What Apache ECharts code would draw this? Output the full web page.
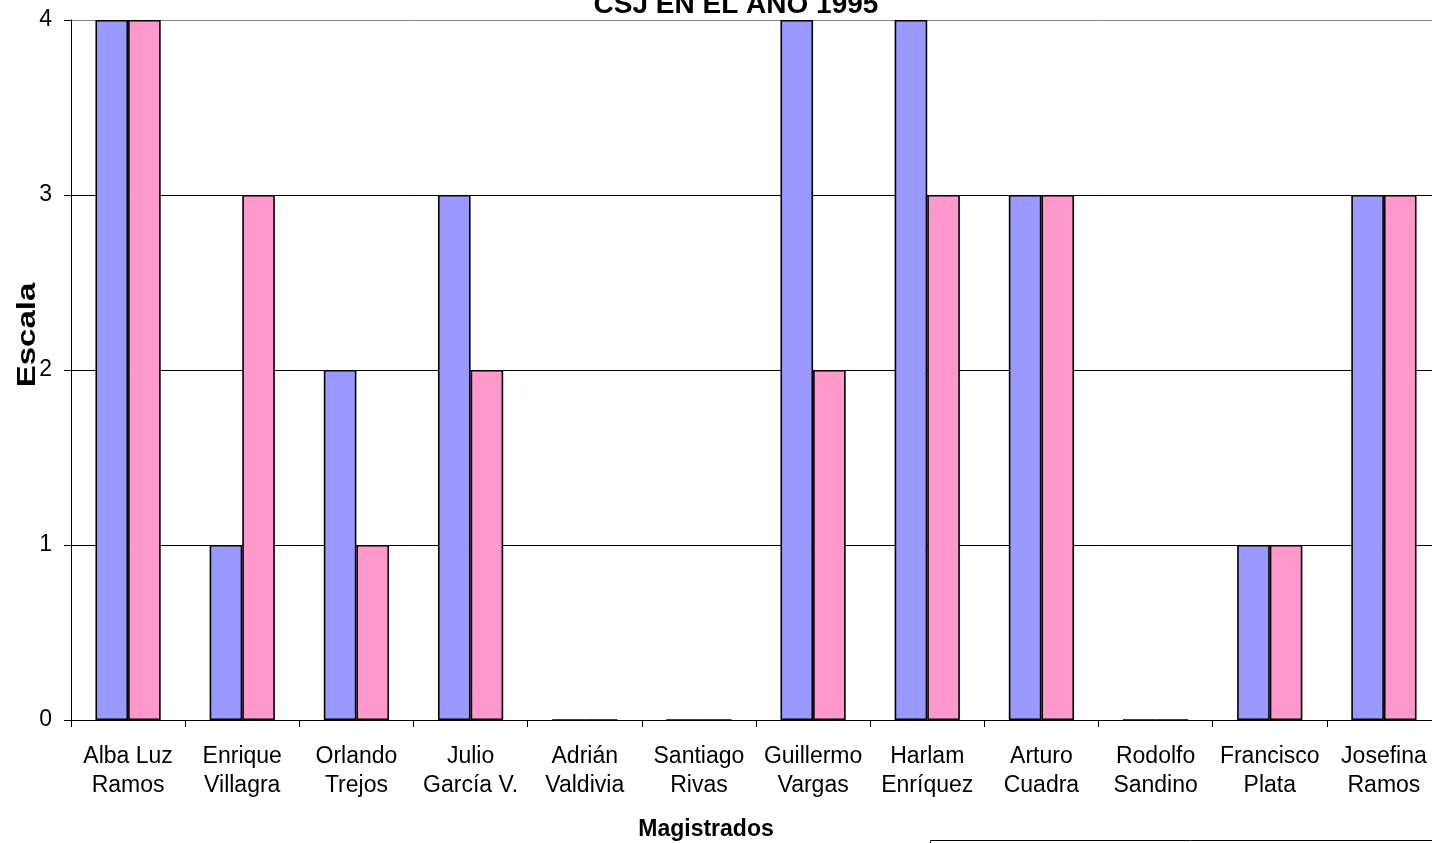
<!DOCTYPE html>
<html>
<head>
<meta charset="utf-8">
<script src="https://cdn.jsdelivr.net/npm/echarts@6/dist/echarts.min.js"></script>
<style>
  html, body { margin: 0; padding: 0; background: #fff; overflow: hidden; width: 1432px; height: 843px; }
  /* plot area runs slightly past the right edge of the window */
  #chart { width: 1460px; height: 843px; }
</style>
</head>
<body>
<div id="chart"></div>
<script>
// Magistrados de la CSJ, escala 0-4
const magistrados = [
  'Alba Luz\nRamos', 'Enrique\nVillagra', 'Orlando\nTrejos', 'Julio\nGarcía V.',
  'Adrián\nValdivia', 'Santiago\nRivas', 'Guillermo\nVargas', 'Harlam\nEnríquez',
  'Arturo\nCuadra', 'Rodolfo\nSandino', 'Francisco\nPlata', 'Josefina\nRamos'
];
const serieA = [4, 1, 2, 3, 0, 0, 4, 4, 3, 0, 1, 3];
const serieB = [4, 3, 1, 2, 0, 0, 2, 3, 3, 0, 1, 3];
const yTicks = [0, 1, 2, 3, 4];

const FONT = "'Liberation Sans', Arial, sans-serif";

const chart = echarts.init(document.getElementById('chart'), null, { renderer: 'canvas' });

chart.setOption({
  animation: false,
  backgroundColor: '#ffffff',
  textStyle: { fontFamily: FONT },
  grid: { left: 71, top: 20, width: 1370, height: 700, containLabel: false },
  graphic: [
    {
      type: 'text',
      x: 736, y: -9,
      style: {
        text: 'CSJ EN EL AÑO 1995',
        font: "bold 28px " + FONT,
        fill: '#000',
        align: 'center',
        verticalAlign: 'top'
      }
    },
    {
      type: 'text',
      x: 28, y: 335,
      rotation: Math.PI / 2,
      scaleX: 1.32,
      style: {
        text: 'Escala',
        font: "bold 25px " + FONT,
        fill: '#000',
        align: 'center',
        verticalAlign: 'middle'
      }
    },
    {
      type: 'text',
      x: 706, y: 830,
      style: {
        text: 'Magistrados',
        font: "bold 23px " + FONT,
        fill: '#000',
        align: 'center',
        verticalAlign: 'middle'
      }
    },
    {
      // legend frame sitting at the bottom edge
      type: 'rect',
      shape: { x: 930.5, y: 840.5, width: 520, height: 60 },
      style: { fill: '#fff', stroke: '#000', lineWidth: 1 }
    }
  ],
  xAxis: {
    type: 'category',
    data: magistrados,
    boundaryGap: true,
    axisLine: { lineStyle: { color: '#000', width: 1 } },
    axisTick: { show: true, alignWithLabel: false, length: 7, lineStyle: { color: '#000' } },
    axisLabel: {
      interval: 0,
      margin: 22,
      fontFamily: FONT,
      fontSize: 23,
      lineHeight: 29,
      color: '#000'
    }
  },
  yAxis: {
    type: 'value',
    min: yTicks[0],
    max: yTicks[yTicks.length - 1],
    interval: 1,
    axisLine: { show: true, lineStyle: { color: '#000', width: 1 } },
    axisTick: { show: true, length: 7, lineStyle: { color: '#000' } },
    axisLabel: { margin: 19, fontFamily: FONT, fontSize: 23, color: '#000' },
    splitLine: {
      show: true,
      lineStyle: { color: ['#000', '#000', '#000', '#000', '#888'], width: 1 }
    }
  },
  series: [
    {
      name: 'Serie A',
      type: 'bar',
      data: serieA,
      barGap: '0%',
      barCategoryGap: '42.86%',
      itemStyle: { color: '#9999FF', borderColor: '#000', borderWidth: 1.6 }
    },
    {
      name: 'Serie B',
      type: 'bar',
      data: serieB,
      barGap: '0%',
      barCategoryGap: '42.86%',
      itemStyle: { color: '#FF99CC', borderColor: '#000', borderWidth: 1.6 }
    }
  ]
});
</script>
</body>
</html>
